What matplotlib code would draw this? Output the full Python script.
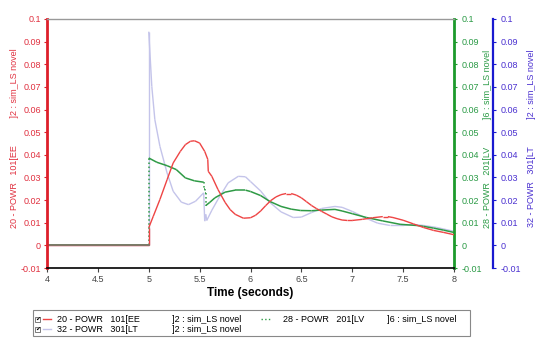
import matplotlib
matplotlib.use("Agg")
import matplotlib.pyplot as plt
from matplotlib.lines import Line2D
from matplotlib.patches import Rectangle

plt.rcParams['font.family'] = ['Liberation Sans', 'DejaVu Sans']

# --- data ---
t_red = [4.0, 5.0, 5.0, 5.045, 5.11, 5.18, 5.24, 5.31, 5.36, 5.41, 5.45, 5.50, 5.55, 5.58, 5.585,
         5.62, 5.68, 5.75, 5.80, 5.85, 5.93, 6.00, 6.05, 6.10, 6.15, 6.20, 6.25, 6.30, 6.35, 6.40,
         6.45, 6.50, 6.55, 6.60, 6.65, 6.70, 6.75, 6.80, 6.85, 6.90, 6.95, 7.00, 7.10, 7.20, 7.30,
         7.35, 7.40, 7.50, 7.60, 7.70, 7.80, 7.90, 8.00]
v_red = [0.0, 0.0, 0.0078, 0.0129, 0.0203, 0.029, 0.0364, 0.0415, 0.0445, 0.046, 0.0462, 0.0452,
         0.0415, 0.038, 0.0327, 0.0305, 0.0247, 0.019, 0.0158, 0.0137, 0.012, 0.0122, 0.0133,
         0.0152, 0.0176, 0.0198, 0.0214, 0.0224, 0.0229, 0.0229, 0.0222, 0.021, 0.0193, 0.0176,
         0.0162, 0.015, 0.0138, 0.0126, 0.0118, 0.0112, 0.011, 0.011, 0.0115, 0.0122, 0.0127,
         0.0127, 0.0123, 0.0111, 0.0095, 0.0079, 0.0066, 0.0057, 0.0047]

t_green = [4.0, 5.0, 5.0, 5.08, 5.18, 5.27, 5.36, 5.45, 5.54, 5.54, 5.55, 5.55, 5.56, 5.56, 5.60,
           5.65, 5.75, 5.85, 5.95, 6.00, 6.10, 6.19, 6.30, 6.40, 6.49, 6.60, 6.70, 6.83, 6.90,
           7.00, 7.14, 7.30, 7.47, 7.63, 7.70, 7.80, 7.90, 8.00]
v_green = [0.0, 0.0, 0.0386, 0.0367, 0.0352, 0.0335, 0.0298, 0.0285, 0.0279, 0.025, 0.025, 0.0232,
           0.0232, 0.0176, 0.019, 0.021, 0.0235, 0.0244, 0.0244, 0.0238, 0.022, 0.0194, 0.0172,
           0.016, 0.0154, 0.0153, 0.0156, 0.0159, 0.0152, 0.014, 0.0123, 0.0108, 0.0093, 0.0088,
           0.0084, 0.0076, 0.0067, 0.0057]

t_blue = [4.0, 5.0, 5.0, 5.03, 5.06, 5.11, 5.18, 5.24, 5.32, 5.39, 5.46, 5.54, 5.55, 5.56, 5.57,
          5.62, 5.68, 5.78, 5.88, 5.95, 6.00, 6.10, 6.19, 6.30, 6.42, 6.50, 6.60, 6.70, 6.83,
          6.90, 7.00, 7.14, 7.25, 7.37, 7.50, 7.60, 7.70, 7.83, 7.90, 8.00]
v_blue = [0.0, 0.0, 0.0944, 0.0702, 0.0555, 0.0437, 0.032, 0.0239, 0.0191, 0.018, 0.0195, 0.0232,
          0.0107, 0.0137, 0.011, 0.0155, 0.0203, 0.0276, 0.0305, 0.0303, 0.0282, 0.024, 0.019,
          0.0148, 0.0123, 0.0125, 0.0145, 0.0163, 0.0172, 0.0168, 0.015, 0.0119, 0.0098, 0.0088,
          0.0088, 0.0092, 0.0088, 0.0079, 0.0072, 0.0062]

x_ticks = [4, 4.5, 5, 5.5, 6, 6.5, 7, 7.5, 8]
y_ticks = [-0.01, 0, 0.01, 0.02, 0.03, 0.04, 0.05, 0.06, 0.07, 0.08, 0.09, 0.1]

label_red = "20 - POWR   101[EE           ]2 : sim_LS novel"
label_green = "28 - POWR   201[LV           ]6 : sim_LS novel"
label_blue = "32 - POWR   301[LT           ]2 : sim_LS novel"

RED = '#ee4444'
GREEN = '#2e9a45'
BLUE_LINE = '#c4c4ea'

fig = plt.figure(figsize=(5.5, 3.43), dpi=100)
ax = fig.add_axes([47 / 550, 75 / 343, 407 / 550, 249 / 343])
axg = ax.twinx()
axb = ax.twinx()
axb.spines['right'].set_position(('outward', 28))


def draw(a, t, v, color, lw, jump_ls='-'):
    # green's vertical jumps are dotted, the rest solid
    for i in range(len(t) - 1):
        ls = jump_ls if t[i] == t[i + 1] else '-'
        a.plot(t[i:i + 2], v[i:i + 2], color=color, lw=lw, ls=ls, solid_capstyle='butt')


draw(axb, t_blue, v_blue, BLUE_LINE, 1.0)
draw(axg, t_green, v_green, GREEN, 1.1, jump_ls=':')
draw(ax, t_red, v_red, RED, 1.0)
ax.plot(t_red[:2], v_red[:2], color='#7a7a6a', lw=1.3)

for a in (ax, axg, axb):
    a.set_xlim(4, 8)
    a.set_ylim(-0.01, 0.1)
    a.set_yticks(y_ticks)
    a.set_yticklabels(['%g' % y for y in y_ticks])
    for s in a.spines.values():
        s.set_visible(False)

ax.set_zorder(axb.get_zorder() + 2)
axg.set_zorder(axb.get_zorder() + 1)
ax.patch.set_visible(False)

ax.spines['left'].set_visible(True)
ax.spines['left'].set_color('#dd1f2a')
ax.spines['left'].set_linewidth(2)
ax.spines['bottom'].set_visible(True)
ax.spines['bottom'].set_color('black')
ax.spines['bottom'].set_linewidth(1.2)
ax.spines['top'].set_visible(True)
ax.spines['top'].set_color('#999999')
ax.spines['top'].set_linewidth(1.0)
axg.spines['right'].set_visible(True)
axg.spines['right'].set_color('#1d9a2c')
axg.spines['right'].set_linewidth(2)
axb.spines['right'].set_visible(True)
axb.spines['right'].set_color('#1a1ad0')
axb.spines['right'].set_linewidth(1.6)

ax.set_xticks(x_ticks)
ax.set_xticklabels(['%g' % x for x in x_ticks])
ax.tick_params(axis='x', length=3, width=0.8, colors='#444444', labelsize=6.5, pad=2)
ax.tick_params(axis='y', length=2.5, width=0.8, color='#dd1f2a', labelcolor='#e0303f', labelsize=6.5, pad=2)
axg.tick_params(axis='y', length=2.5, width=0.8, color='#1d9a2c', labelcolor='#2a9a45', labelsize=6.5, pad=3)
axb.tick_params(axis='y', length=2.5, width=0.8, color='#1a1ad0', labelcolor='#4a30d0', labelsize=6.5, pad=3)

ax.set_xlabel("Time (seconds)", fontsize=8.5, fontweight='bold', labelpad=2)

ax.set_ylabel(label_red, color='#e0303f', fontsize=6.5)
ax.yaxis.set_label_coords(-0.07, 0.52)
axg.set_ylabel(label_green, color='#2a9a45', fontsize=6.5)
axg.yaxis.set_label_coords(1.072, 0.52)
axb.set_ylabel(label_blue, color='#4a30d0', fontsize=6.5)
axb.yaxis.set_label_coords(1.18, 0.52)

# legend box drawn by hand like the tool's panel
W, H = 550.0, 343.0
fig.patches.append(Rectangle((33 / W, 1 - 336 / H), 437 / W, 26 / H, transform=fig.transFigure,
                             fill=False, edgecolor='#888888', lw=0.8))
rows = [(319, RED, '20 - POWR   101[EE', ']2 : sim_LS novel'),
        (329, BLUE_LINE, '32 - POWR   301[LT', ']2 : sim_LS novel')]
for ypx, col, a_txt, b_txt in rows:
    y = 1 - ypx / H
    fig.patches.append(Rectangle((35 / W, y - 2.5 / H), 5 / W, 5 / H, transform=fig.transFigure,
                                 fill=False, edgecolor='#666666', lw=0.6))
    fig.text(37.5 / W, y, '\u2714', fontsize=4.5, ha='center', va='center', family='DejaVu Sans')
    fig.lines.append(Line2D([43 / W, 51 / W], [y, y], transform=fig.transFigure, color=col, lw=1.0))
    fig.text(57 / W, y, a_txt, fontsize=6.5, va='center')
    fig.text(172 / W, y, b_txt, fontsize=6.5, va='center')
y = 1 - 319 / H
fig.lines.append(Line2D([261 / W, 270 / W], [y, y], transform=fig.transFigure, color=GREEN, lw=1.0, ls=':'))
fig.text(283 / W, y, '28 - POWR   201[LV', fontsize=6.5, va='center')
fig.text(387 / W, y, ']6 : sim_LS novel', fontsize=6.5, va='center')

fig.savefig('out.png', dpi=100)
